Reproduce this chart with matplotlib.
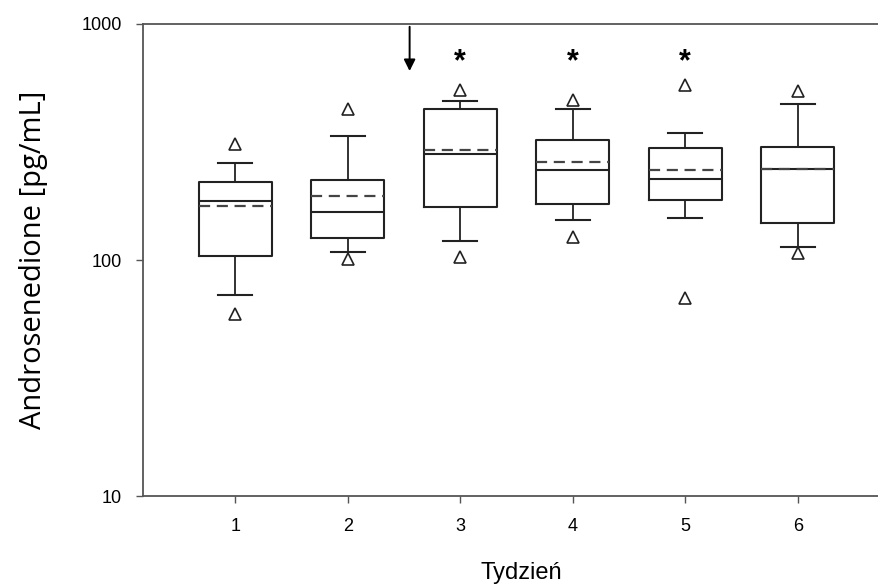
import numpy as np
import matplotlib
matplotlib.rcParams['font.family'] = 'Liberation Sans'
import matplotlib.pyplot as plt
plt.switch_backend('agg')

weeks = [1, 2, 3, 4, 5, 6]
q1 = [104, 124, 168, 172, 179, 143]
q3 = [215, 219, 435, 321, 297, 302]
medians = [177, 160, 281, 241, 220, 242]
means = [170, 187, 293, 259, 241, 244]
whis_lo = [71, 108, 120, 148, 150, 114]
whis_hi = [257, 336, 470, 435, 345, 457]
fliers = [[310, 59], [435, 101], [525, 103], [476, 125], [550, 69], [520, 107]]
star_weeks = [3, 4, 5]
arrow_x = 2.55

stats = []
for i, w in enumerate(weeks):
    stats.append(dict(med=medians[i], q1=q1[i], q3=q3[i], mean=means[i],
                      whislo=whis_lo[i], whishi=whis_hi[i], fliers=fliers[i], label=str(w)))

fig = plt.figure(figsize=(8.79, 5.85), dpi=100)
ax = fig.add_axes([0.1627, 0.152, 0.86, 0.807])
lc = '#222222'
ax.bxp(stats, positions=weeks, widths=0.65, showmeans=True, meanline=True,
       boxprops=dict(color=lc, linewidth=1.5),
       medianprops=dict(color=lc, linewidth=1.5),
       meanprops=dict(color='#444444', linewidth=1.6, linestyle=(0, (5, 3))),
       whiskerprops=dict(color=lc, linewidth=1.3),
       capprops=dict(color=lc, linewidth=1.5), capwidths=0.3,
       flierprops=dict(marker='^', markerfacecolor='white', markeredgecolor=lc,
                       markersize=8.5, markeredgewidth=1.2))

ax.set_yscale('log')
ax.set_ylim(10, 1000)
ax.set_xlim(0.18, 6.9)
ax.set_yticks([10, 100, 1000])
ax.set_yticklabels(['10', '100', '1000'])
ax.minorticks_off()
ax.set_xticks(weeks)
ax.set_xticklabels([str(w) for w in weeks])
ax.tick_params(axis='both', direction='out', length=5, width=1, colors='#555555',
               labelcolor='black', labelsize=13)
ax.tick_params(axis='x', pad=11)
ax.tick_params(axis='y', pad=10)
for s in ['left', 'top', 'bottom']:
    ax.spines[s].set_color('#555555')
    ax.spines[s].set_linewidth(1.3)
ax.spines['right'].set_visible(False)

for w in star_weeks:
    ax.text(w, 690, '*', ha='center', va='center', fontsize=22, fontweight='bold')
ax.annotate('', xy=(arrow_x, 615), xytext=(arrow_x, 1000),
            arrowprops=dict(arrowstyle='-|>', color='black', lw=1.4, mutation_scale=17))

ax.set_ylabel('Androsenedione [pg/mL]', fontsize=21, family='Open Sans', labelpad=24)
ax.set_xlabel('Tydzień', fontsize=17, labelpad=19)

plt.savefig('out.png', dpi=100)
plt.close()
